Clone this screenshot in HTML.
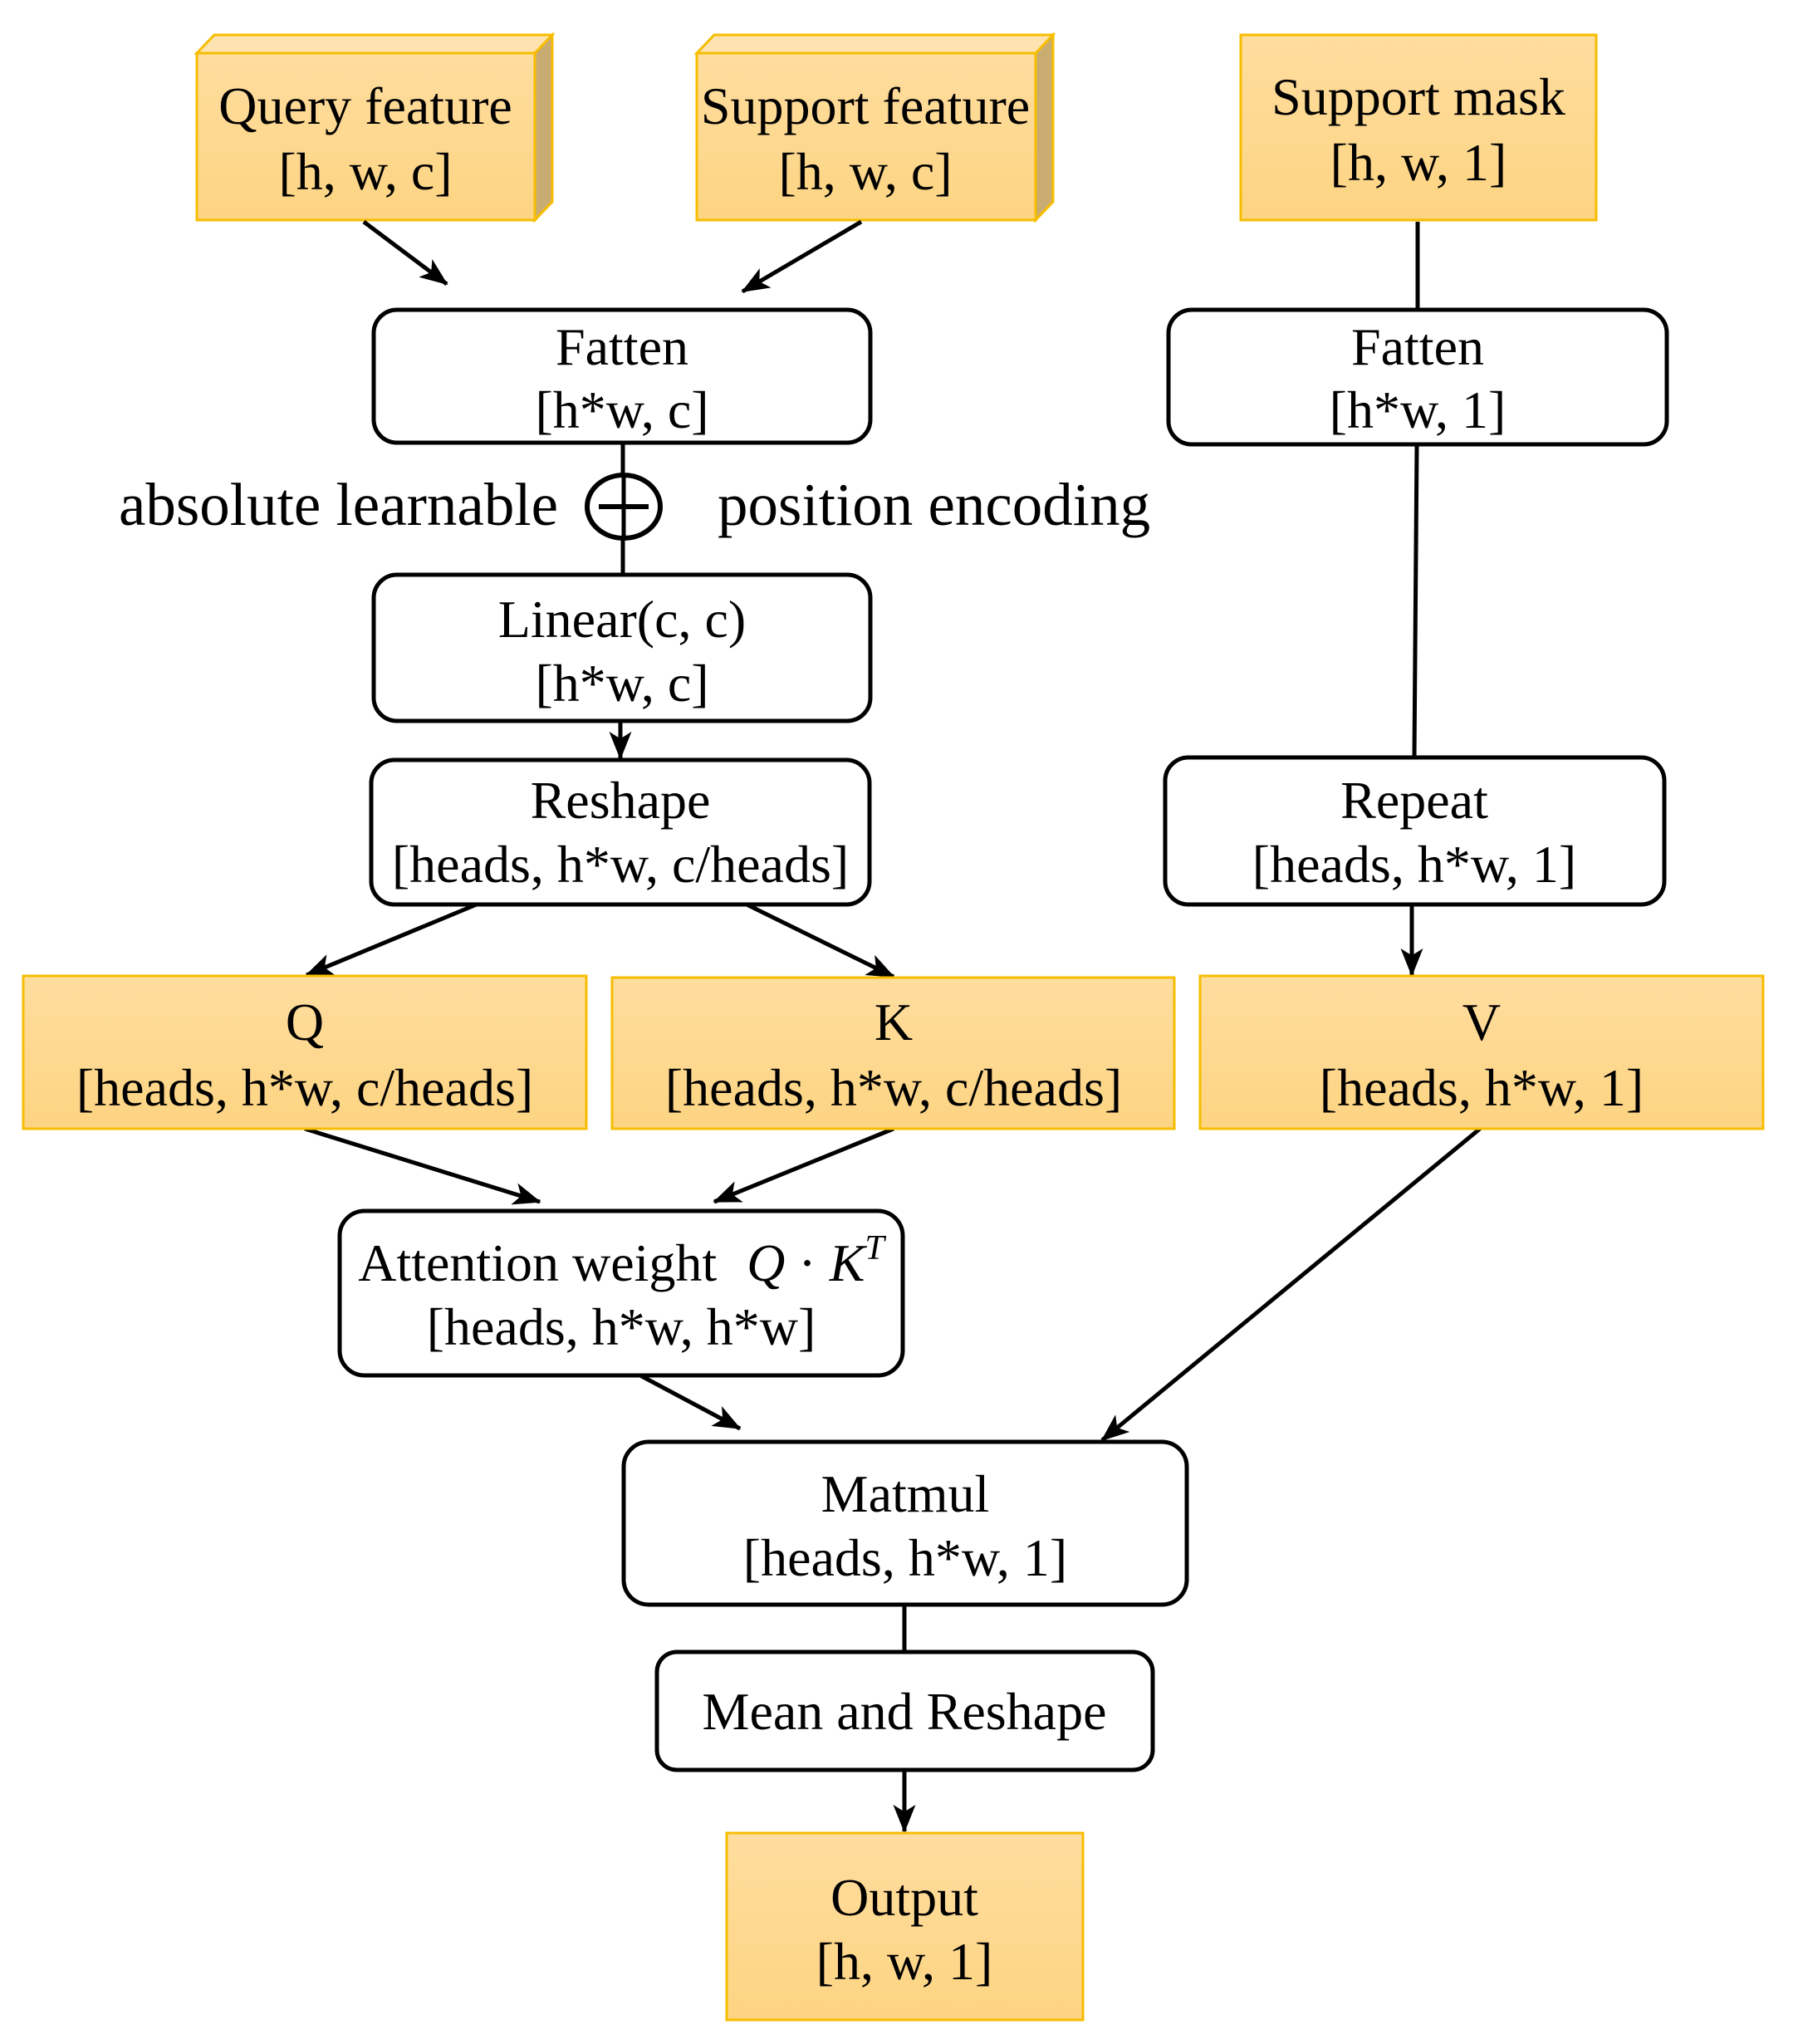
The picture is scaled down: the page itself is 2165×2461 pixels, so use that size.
<!DOCTYPE html>
<html><head><meta charset="utf-8">
<style>
html,body{margin:0;padding:0;background:#fff;}
svg{display:block;}
text{font-family:"Liberation Serif",serif;font-size:64px;fill:#000;text-anchor:middle;}
</style></head>
<body>
<svg width="2165" height="2461" viewBox="0 0 2165 2461" xmlns="http://www.w3.org/2000/svg">
<defs>
<linearGradient id="og" x1="0" y1="0" x2="0" y2="1">
<stop offset="0" stop-color="#fedd9f"/><stop offset="1" stop-color="#fdd482"/>
</linearGradient>
<marker id="a" viewBox="0 0 20 16" refX="19" refY="8" markerWidth="34" markerHeight="27" orient="auto" markerUnits="userSpaceOnUse">
<path d="M0,0 L20,8 L0,16 L5,8 Z" fill="#000"/>
</marker>
</defs>

<!-- Query feature 3D -->
<polygon points="237,64 258,42 665,42 644,64" fill="#fee3b0" stroke="#f7bd00" stroke-width="3"/>
<polygon points="644,64 665,42 665,243 644,265" fill="#c9ac72" stroke="#f7bd00" stroke-width="3"/>
<rect x="237" y="64" width="407" height="201" fill="url(#og)" stroke="#f7bd00" stroke-width="3"/>
<text x="440" y="149">Query feature</text>
<text x="440" y="228">[h, w, c]</text>

<!-- Support feature 3D -->
<polygon points="839,64 860,42 1268,42 1247,64" fill="#fee3b0" stroke="#f7bd00" stroke-width="3"/>
<polygon points="1247,64 1268,42 1268,243 1247,265" fill="#c9ac72" stroke="#f7bd00" stroke-width="3"/>
<rect x="839" y="64" width="408" height="201" fill="url(#og)" stroke="#f7bd00" stroke-width="3"/>
<text x="1042" y="149">Support feature</text>
<text x="1042" y="228">[h, w, c]</text>

<!-- Support mask -->
<rect x="1494" y="42" width="428" height="223" fill="url(#og)" stroke="#f7bd00" stroke-width="3"/>
<text x="1708" y="138">Support mask</text>
<text x="1708" y="217">[h, w, 1]</text>

<!-- connectors -->
<g stroke="#000" stroke-width="5" fill="none">
<line x1="438" y1="267" x2="538" y2="342" marker-end="url(#a)"/>
<line x1="1037" y1="267" x2="894" y2="351" marker-end="url(#a)"/>
<line x1="1707" y1="267" x2="1707" y2="373"/>
<line x1="750" y1="533" x2="750" y2="692"/>
<line x1="1706" y1="535" x2="1703" y2="912"/>
<line x1="747" y1="868" x2="747" y2="913" marker-end="url(#a)"/>
<line x1="581" y1="1086" x2="369" y2="1174" marker-end="url(#a)"/>
<line x1="893" y1="1086" x2="1076" y2="1176" marker-end="url(#a)"/>
<line x1="1700" y1="1089" x2="1700" y2="1174" marker-end="url(#a)"/>
<line x1="367" y1="1359" x2="650" y2="1447" marker-end="url(#a)"/>
<line x1="1076" y1="1359" x2="860" y2="1447" marker-end="url(#a)"/>
<line x1="1782" y1="1359" x2="1327" y2="1734" marker-end="url(#a)"/>
<line x1="769" y1="1655" x2="891" y2="1720" marker-end="url(#a)"/>
<line x1="1089" y1="1932" x2="1089" y2="1989"/>
<line x1="1089" y1="2131" x2="1089" y2="2205" marker-end="url(#a)"/>
</g>

<!-- white boxes -->
<g fill="#fff" stroke="#000" stroke-width="5">
<rect x="450" y="373" width="598" height="160" rx="28"/>
<rect x="1407" y="373" width="600" height="162" rx="28"/>
<rect x="450" y="692" width="598" height="176" rx="28"/>
<rect x="447" y="915" width="600" height="174" rx="28"/>
<rect x="1403" y="912" width="601" height="177" rx="28"/>
<rect x="409" y="1458" width="678" height="198" rx="30"/>
<rect x="751" y="1736" width="678" height="196" rx="30"/>
<rect x="791" y="1989" width="597" height="142" rx="24"/>
</g>
<text x="749" y="439">Fatten</text>
<text x="749" y="515">[h*w, c]</text>
<text x="1707" y="439">Fatten</text>
<text x="1707" y="515">[h*w, 1]</text>
<text x="749" y="767">Linear(c, c)</text>
<text x="749" y="844">[h*w, c]</text>
<text x="747" y="985">Reshape</text>
<text x="747" y="1062">[heads, h*w, c/heads]</text>
<text x="1703" y="985">Repeat</text>
<text x="1703" y="1062">[heads, h*w, 1]</text>
<text x="748" y="1542"><tspan>Attention weight </tspan><tspan font-style="italic" dx="20">Q</tspan><tspan> · </tspan><tspan font-style="italic">K</tspan><tspan font-style="italic" font-size="42" dy="-26">T</tspan></text>
<text x="748" y="1619">[heads, h*w, h*w]</text>
<text x="1090" y="1820">Matmul</text>
<text x="1090" y="1897">[heads, h*w, 1]</text>
<text x="1089" y="2082">Mean and Reshape</text>

<!-- plus circle -->
<ellipse cx="751" cy="610" rx="44" ry="38" fill="#fff" stroke="#000" stroke-width="6"/>
<line x1="751" y1="572" x2="751" y2="648" stroke="#000" stroke-width="5"/>
<line x1="721" y1="610" x2="781" y2="610" stroke="#000" stroke-width="6"/>
<text x="143" y="632" style="text-anchor:start;font-size:73px">absolute learnable</text>
<text x="864" y="632" style="text-anchor:start;font-size:73px">position encoding</text>

<!-- Q K V -->
<rect x="28" y="1175" width="678" height="184" fill="url(#og)" stroke="#f7bd00" stroke-width="3"/>
<text x="367" y="1252">Q</text>
<text x="367" y="1331">[heads, h*w, c/heads]</text>
<rect x="737" y="1177" width="677" height="182" fill="url(#og)" stroke="#f7bd00" stroke-width="3"/>
<text x="1076" y="1252">K</text>
<text x="1076" y="1331">[heads, h*w, c/heads]</text>
<rect x="1445" y="1175" width="678" height="184" fill="url(#og)" stroke="#f7bd00" stroke-width="3"/>
<text x="1784" y="1252">V</text>
<text x="1784" y="1331">[heads, h*w, 1]</text>

<!-- Output -->
<rect x="875" y="2207" width="429" height="225" fill="url(#og)" stroke="#f7bd00" stroke-width="3"/>
<text x="1089" y="2306">Output</text>
<text x="1089" y="2383">[h, w, 1]</text>
</svg>
</body></html>
